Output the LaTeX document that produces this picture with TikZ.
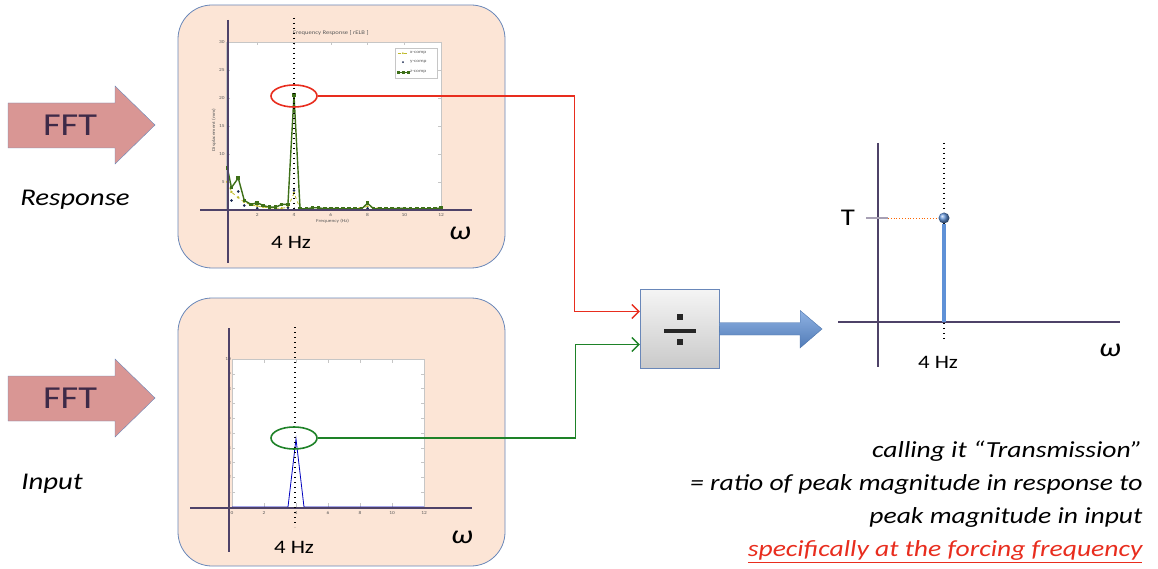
\documentclass[tikz,border=0pt]{standalone}
\usepackage{fontspec}
\setmainfont{Carlito}[FakeStretch=1.2]
\usetikzlibrary{arrows.meta,shapes.geometric,plotmarks,calc}

\definecolor{peach}{RGB}{252,229,214}
\definecolor{panelrim}{RGB}{105,135,185}
\definecolor{fftfill}{RGB}{217,150,148}
\definecolor{fftink}{RGB}{62,42,72}
\definecolor{axispurple}{RGB}{78,66,104}
\definecolor{zgreen}{RGB}{62,112,24}
\definecolor{xolive}{RGB}{190,185,40}
\definecolor{ynavy}{RGB}{25,40,80}
\definecolor{peakred}{RGB}{232,45,30}
\definecolor{peakgreen}{RGB}{30,130,40}
\definecolor{stemblue}{RGB}{95,145,215}

\begin{document}
\begin{tikzpicture}[x=1pt,y=-1pt,>={Straight Barb[length=7pt,width=14pt]},
panel/.style ={rectangle, draw=panelrim, thick, fill=peach, rounded corners=34pt, minimum width=327pt},
fftarrow/.style ={draw=panelrim, thin, fill=fftfill},
fftlab/.style ={text=fftink, font=\fontsize{32}{36}\selectfont},
side/.style ={font=\fontsize{24}{28}\selectfont\itshape},
hz/.style ={font=\fontsize{19}{22}\selectfont},
omega/.style ={font=\fontsize{26}{28}\selectfont\itshape},
frame/.style ={draw=gray!45, thin, fill=white},
ticklab/.style ={text=gray!70!black, font=\fontsize{4.5}{5}\selectfont, inner sep=1pt},
axis/.style ={axispurple, line width=2pt},
marker/.style ={dash pattern=on 1.3pt off 3.7pt, line width=1.3pt},
ring/.style ={ellipse, line width=1.6pt, minimum width=46pt, minimum height=22pt, inner sep=0pt},
divbox/.style ={rectangle, draw=panelrim, top color=gray!8, bottom color=gray!42, minimum size=79pt}
]
\useasboundingbox (0,0) rectangle (1158,569);

% the two plot panels
\node[panel, minimum height=263pt] (respPanel) at (341.5,136.5) {};
\node[panel, minimum height=268pt] (inPanel) at (341.5,432) {};

% FFT arrows
\draw[fftarrow] (8,103) -- (115,103) -- (115,86) -- (155,125) -- (115,164) -- (115,148) -- (8,148) -- cycle;
\draw[fftarrow] (8,376) -- (115,376) -- (115,359) -- (155,398) -- (115,437) -- (115,421) -- (8,421) -- cycle;
\node[fftlab] (fftR) at (70,125) {FFT};
\node[fftlab] (fftI) at (70,398) {FFT};
\node[side] (respLab) at (75,200) {Response};
\node[side] (inLab) at (52,484) {Input};

% response spectrum
\begin{scope}[shift={(220.4,210)}, x=18.4pt, y=5.6pt]
\draw[frame] (0.3,0) rectangle (12,30);
\foreach \t in {2,4,...,12} {
  \draw[gray!45] (\t,0) -- (\t,0.5) (\t,30) -- (\t,29.5);
  \node[ticklab, below] at (\t,-0.4) {\t};
}
\foreach \v in {5,10,...,30} {
  \draw[gray!45] (0.3,\v) -- (0.5,\v) (12,\v) -- (11.8,\v);
  \node[ticklab, left] at (0.3,\v) {\v};
}
\node[ticklab, font=\fontsize{5.5}{6}\selectfont] at (6,31.6) {Frequency Response [ rELB ]};
\node[ticklab, rotate=90] at (-0.35,14.3) {Displacement (mm)};
\node[ticklab] at (6.1,-2) {Frequency (Hz)};
% legend
\draw[draw=gray!45, fill=white] (9.49,28.9) rectangle (11.77,23.6);
\draw[xolive, dashed, thick] (9.65,28) -- (10.2,28);
\fill[xolive] (9.92,28) circle (1pt);
\fill[ynavy] (9.92,26.4) circle (1pt);
\draw[zgreen, thick, mark=square*, mark size=1pt] plot coordinates {(9.65,24.6) (9.92,24.6) (10.2,24.6)};
\node[ticklab, right] at (10.25,28) {x-comp};
\node[ticklab, right] at (10.25,26.4) {y-comp};
\node[ticklab, right] at (10.25,24.6) {z-comp};
% data
\draw[xolive, dashed, thick, mark=*, mark size=0.9pt] plot coordinates {(0.38,5) (0.6,3.2) (0.97,2.2) (1.3,1.4) (1.67,0.9) (2,0.7) (2.33,0.5) (2.67,0.4) (3,0.3) (3.33,0.3) (3.67,0.5) (4,3) (4.33,0.3) (5,0.2) (6,0.2) (7,0.2) (8,0.6) (9,0.2) (10,0.2) (11,0.2) (12,0.2)};
\draw[ynavy, only marks, mark=*, mark size=1.1pt] plot coordinates {(0.6,1.7) (0.97,3.3) (1.3,0.8) (2,0.3) (3,0.3) (3.67,0.4) (4,3.5) (5,0.1) (8,0.3)};
\draw[zgreen, line width=1.4pt, mark=square*, mark size=1.1pt] plot coordinates {(0.38,7.5) (0.6,4) (0.97,5.7) (1.3,1.7) (1.67,1) (2,1.3) (2.33,0.8) (2.67,0.5) (3,0.5) (3.33,1) (3.67,1) (4,20.5) (4.33,0.2) (4.67,0.2) (5,0.4) (5.33,0.4) (5.67,0.2) (6,0.3) (6.33,0.2) (6.67,0.2) (7,0.2) (7.33,0.2) (7.67,0.2) (8,1.2) (8.33,0.2) (8.67,0.2) (9,0.2) (9.33,0.2) (9.67,0.3) (10,0.3) (10.33,0.2) (10.67,0.2) (11,0.2) (11.33,0.2) (11.67,0.2) (12,0.4)};
\end{scope}

% input spectrum
\begin{scope}[shift={(232,507)}, x=16pt, y=14.8pt]
\draw[frame] (0,0) rectangle (12,10);
\foreach \t in {0,2,...,12} {
  \draw[gray!45] (\t,0) -- (\t,0.25) (\t,10) -- (\t,9.75);
  \node[ticklab, below] at (\t,-0.2) {\t};
}
\foreach \v in {1,...,10} {
  \draw[gray!45] (0,\v) -- (0.2,\v) (12,\v) -- (11.8,\v);
  \node[ticklab, left] at (0,\v) {\v};
}
\draw[blue!75!black, thick] (0,0) -- (3.5,0) -- (4,4.6) -- (4.5,0) -- (12,0);
\end{scope}

% omega axes
\draw[axis] (200,210) -- (472,210);
\draw[axis] (228,20) -- (228,263);
\draw[axis] (190,508) -- (472,508);
\draw[axis] (229,328) -- (229,552);
\draw[marker] (294,18) -- (294,213);
\draw[marker] (295,327) -- (295,527);
\node[hz] (hzR) at (291,242) {4 Hz};
\node[hz] (hzI) at (294,547) {4 Hz};
\node[omega] (omR) at (460,233) {ω};
\node[omega] (omI) at (462,537) {ω};

% peaks
\node[ring, draw=peakred] (peakR) at (294,96) {};
\node[ring, draw=peakgreen] (peakI) at (294,438) {};

% divide block
\node[divbox] (div) at (679.5,328.5) {};
\fill[black!85] ($(div.center)+(-16,0)$) rectangle ($(div.center)+(16,4)$);
\fill[black!85] ($(div.center)+(-3,-15)$) rectangle ($(div.center)+(3,-9)$);
\fill[black!85] ($(div.center)+(-3,10)$) rectangle ($(div.center)+(3,16)$);
\draw[->, peakred, line width=1.3pt] (peakR.east) -- ++(257,0) |- ([yshift=17pt]div.west);
\draw[->, peakgreen, line width=1.3pt] (peakI.east) -- ++(258,0) |- ([yshift=-16pt]div.west);

% output arrow
\shade[top color=stemblue!70!white, bottom color=stemblue!85!black, draw=stemblue!80!black, thin]
  (div.east) ++(0,-6) -- ++(81,0) -- ++(0,-12) -- (822,329) -- (800,348) -- (800,335) -- (719.5,335) -- cycle;

% transmission plot
\draw[axis] (838,322) -- (1120,322);
\draw[axis] (878,143) -- (878,367);
\draw[marker] (944,143) -- (944,340);
\coordinate (tBase) at (944,322);
\node[circle, inner sep=0pt, minimum size=11pt, ball color=stemblue] (peakT) at (944,218) {};
\draw[stemblue, line width=4pt] (tBase) -- (peakT);
\node[font=\fontsize{24}{26}\selectfont] (tLab) at (848,218) {T};
\draw[axispurple!50, line width=1.2pt] (866,218) -- (888,218);
\draw[orange!80!red, dotted, thick] (888,218) -- (peakT.west);
\node[hz] (hzT) at (938,362) {4 Hz};
\node[omega] (omT) at (1110,350) {ω};

% note
\node[anchor=east, align=right, font=\fontsize{23}{33}\selectfont\itshape] (note) at (1146,502)
  {calling it “Transmission\symbol{34}\\= ratio of peak magnitude in response to\\peak magnitude in input\\\textcolor{peakred}{\underline{specifically at the forcing frequency}}};
\end{tikzpicture}
\end{document}
